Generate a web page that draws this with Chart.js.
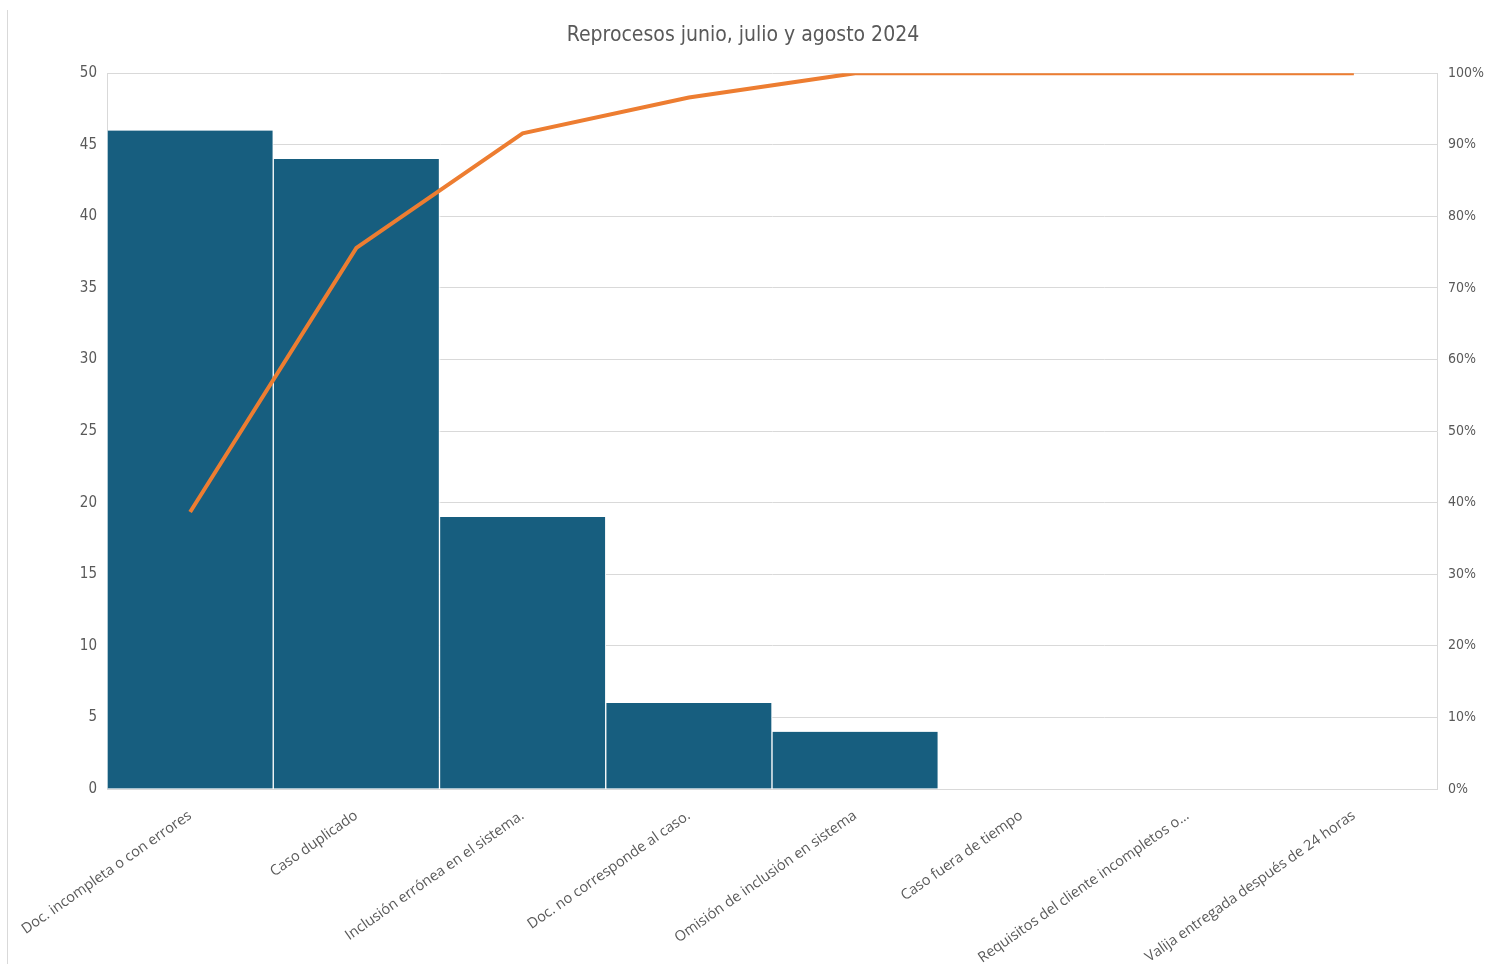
<!DOCTYPE html>
<html>
<head>
<meta charset="utf-8">
<script src="https://cdn.jsdelivr.net/npm/chart.js@4.4.1/dist/chart.umd.min.js"></script>
<style>
  html, body { margin: 0; padding: 0; background: #fff; }
  #wrap { position: relative; width: 1486px; height: 964px; }
  #wrap:before { content: ''; position: absolute; left: 7px; top: 10px; bottom: 0; border-left: 1px solid #d9d9d9; }
</style>
</head>
<body>
<div id="wrap"><canvas id="paretoChart" width="1486" height="964"></canvas></div>
<script>
var categories = [
    "Doc. incompleta o con errores",
    "Caso duplicado",
    "Inclusión errónea en el sistema.",
    "Doc. no corresponde al caso.",
    "Omisión de inclusión en sistema",
    "Caso fuera de tiempo",
    "Requisitos del cliente incompletos o...",
    "Valija entregada después de 24 horas"
];
var counts = [46, 44, 19, 6, 4, 0, 0, 0];
var cumulativePct = [38.7, 75.6, 91.6, 96.6, 100, 100, 100, 100];
var leftTicks = [0, 5, 10, 15, 20, 25, 30, 35, 40, 45, 50];
var rightTicks = [0, 10, 20, 30, 40, 50, 60, 70, 80, 90, 100];

var narrowFont = "'DejaVu Sans Condensed', 'Liberation Sans Narrow', 'Liberation Sans', sans-serif";
var labelFont = "'Open Sans', 'Noto Sans', sans-serif";
var grey = '#595959';

var ctx = document.getElementById('paretoChart').getContext('2d');
var chart = new Chart(ctx, {
    type: 'bar',
    data: {
        labels: categories,
        datasets: [{
            type: 'line',
            label: 'Acumulado',
            data: cumulativePct,
            yAxisID: 'y1',
            borderColor: '#ed7d31',
            borderWidth: 4,
            pointRadius: 0,
            tension: 0,
            order: 0
        }, {
            type: 'bar',
            label: 'Reprocesos',
            data: counts,
            yAxisID: 'y',
            backgroundColor: '#175e7f',
            borderColor: '#ffffff',
            borderWidth: { left: 1, right: 1, top: 0, bottom: 0 },
            borderSkipped: false,
            categoryPercentage: 1,
            barPercentage: 1,
            order: 1
        }]
    },
    options: {
        responsive: false,
        animation: false,
        layout: { padding: 0 },
        plugins: {
            legend: { display: false },
            tooltip: { enabled: false },
            title: {
                display: true,
                text: 'Reprocesos junio, julio y agosto 2024',
                color: grey,
                font: { family: narrowFont, size: 21, weight: 'normal' },
                padding: { top: 23, bottom: 25 }
            }
        },
        scales: {
            x: {
                grid: { display: false, drawTicks: false },
                border: { display: true, color: '#d9d9d9' },
                ticks: {
                    color: grey,
                    font: { family: labelFont, size: 14.5 },
                    minRotation: 35,
                    maxRotation: 35,
                    autoSkip: false,
                    padding: 18
                },
                afterFit: function (s) {
                    s.height = 175;
                    s.paddingLeft = 0;
                    s.paddingRight = 0;
                }
            },
            y: {
                position: 'left',
                min: 0,
                max: 50,
                afterBuildTicks: function (s) { s.ticks = leftTicks.map(function (v) { return { value: v }; }); },
                grid: { color: '#d9d9d9', drawTicks: false },
                border: { display: true, color: '#d9d9d9' },
                ticks: {
                    color: grey,
                    font: { family: narrowFont, size: 15 },
                    padding: 10
                },
                afterFit: function (s) { s.width = 107; }
            },
            y1: {
                position: 'right',
                min: 0,
                max: 100,
                afterBuildTicks: function (s) { s.ticks = rightTicks.map(function (v) { return { value: v }; }); },
                grid: { drawOnChartArea: false, drawTicks: false },
                border: { display: true, color: '#d9d9d9' },
                ticks: {
                    color: grey,
                    font: { family: narrowFont, size: 14 },
                    padding: 11,
                    callback: function (v) { return v + '%'; }
                },
                afterFit: function (s) { s.width = 49; }
            }
        }
    }
});
</script>
</body>
</html>
